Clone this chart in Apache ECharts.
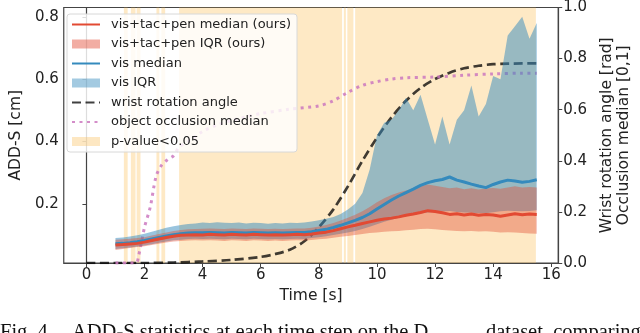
<!DOCTYPE html>
<html>
<head>
<meta charset="utf-8">
<script src="https://cdn.jsdelivr.net/npm/echarts@6/dist/echarts.min.js"></script>
<style>
html, body { margin: 0; padding: 0; background: #fff; }
#main { width: 640px; height: 333px; }
</style>
</head>
<body>
<div id="main"></div>
<script>
// time steps (s) shared by the ADD-S series
var timeSteps = [1, 1.25, 1.5, 1.75, 2, 2.25, 2.5, 2.75, 3, 3.25, 3.5, 3.75, 4, 4.25, 4.5, 4.75,
  5, 5.25, 5.5, 5.75, 6, 6.25, 6.5, 6.75, 7, 7.25, 7.5, 7.75, 8, 8.25, 8.5, 8.75,
  9, 9.25, 9.5, 9.75, 10, 10.25, 10.5, 10.75, 11, 11.25, 11.5, 11.75, 12, 12.25, 12.5, 12.75,
  13, 13.25, 13.5, 13.75, 14, 14.25, 14.5, 14.75, 15, 15.25, 15.5];

// vis+tac+pen (ours)
var oursMedian = [.068, .069, .071, .073, .077, .082, .087, .092, .096, .099, .100, .101, .100, .102, .101, .100,
  .102, .101, .100, .102, .101, .100, .101, .100, .101, .102, .101, .103, .106, .109, .114, .120,
  .126, .131, .137, .142, .147, .151, .154, .158, .163, .167, .172, .178, .175, .171, .166, .168,
  .164, .167, .163, .166, .164, .160, .164, .168, .165, .167, .166];
var oursLow = [.052, .055, .058, .061, .064, .068, .072, .076, .079, .081, .082, .083, .082, .083, .082, .081,
  .083, .082, .081, .083, .082, .081, .082, .081, .082, .083, .082, .084, .086, .088, .091, .094,
  .097, .100, .103, .106, .108, .110, .112, .113, .115, .117, .119, .120, .118, .116, .114, .113,
  .112, .113, .111, .112, .110, .108, .109, .108, .106, .105, .104];
var oursHigh = [.085, .086, .088, .090, .093, .098, .103, .108, .113, .116, .118, .119, .120, .121, .120, .119,
  .121, .120, .119, .121, .120, .119, .120, .119, .120, .121, .121, .123, .127, .132, .138, .146,
  .155, .165, .176, .190, .205, .218, .228, .236, .243, .250, .256, .262, .258, .254, .250, .252,
  .247, .250, .246, .249, .251, .248, .252, .256, .252, .254, .252];

// vis only
var visMedian = [.072, .073, .075, .078, .082, .087, .092, .097, .101, .104, .106, .107, .107, .108, .107, .106,
  .108, .107, .106, .108, .107, .106, .107, .106, .107, .108, .108, .110, .114, .118, .124, .131,
  .139, .147, .156, .168, .183, .198, .212, .225, .236, .247, .259, .268, .274, .278, .286, .276,
  .270, .263, .257, .252, .262, .270, .276, .273, .269, .272, .277];
var visLow = [.055, .057, .060, .063, .066, .070, .075, .079, .083, .085, .087, .088, .087, .088, .087, .086,
  .088, .087, .086, .088, .087, .086, .087, .086, .087, .088, .087, .090, .093, .096, .100, .104,
  .108, .113, .119, .126, .134, .142, .149, .155, .160, .165, .169, .172, .174, .175, .177, .174,
  .172, .171, .170, .170, .173, .176, .178, .177, .176, .177, .179];
var visHigh = [.090, .092, .095, .099, .104, .110, .117, .123, .128, .132, .135, .137, .140, .138, .141, .139,
  .138, .140, .137, .139, .138, .136, .138, .137, .139, .138, .140, .143, .147, .152, .158, .167,
  .182, .200, .235, .310, .420, .460, .470, .500, .540, .500, .550, .470, .390, .480, .390, .470,
  .500, .580, .480, .520, .610, .600, .740, .770, .800, .730, .780];

// wrist rotation angle (rad), right axis
var wristTime = [0, 1, 2, 3, 4, 5, 6, 6.5, 7, 7.5, 8, 8.5, 9, 9.5, 10, 10.5, 11, 11.5, 12, 12.5, 13, 13.5, 14, 14.5, 15, 15.5];
var wristAngle = [0, 0, 0, .002, .006, .012, .024, .035, .052, .085, .14, .21, .30, .40, .49, .57, .635, .685, .72, .745, .762, .772, .778, .78, .781, .781];

// object occlusion median [0,1], right axis
var occTime = [1, 1.7, 1.8, 2, 2.2, 2.4, 2.6, 2.8, 3, 3.2, 3.5, 4, 4.5, 5, 5.5, 6, 7, 8, 8.5, 9, 9.5, 10, 10.5, 11, 12, 13, 14, 15, 15.5];
var occValue = [0, 0, .03, .14, .22, .34, .385, .405, .42, .455, .475, .515, .54, .558, .572, .585, .602, .615, .635, .668, .695, .71, .72, .725, .728, .735, .74, .743, .743];

// time windows with p-value < 0.05
var pStart = [1.29, 1.53, 1.73, 2.41, 2.58, 3.19, 8.86, 8.98, 9.25];
var pEnd = [1.42, 1.69, 1.86, 2.51, 2.71, 8.80, 8.93, 9.19, 15.47];

var xTicks = [0, 2, 4, 6, 8, 10, 12, 14, 16];
var leftTicks = [0.2, 0.4, 0.6, 0.8];

function pairs(ts, vs) {
  return ts.map(function (t, i) { return [t, vs[i]]; });
}

// IQR band drawn as one polygon through the axis scales
function band(name, lo, hi, color, opacity, z) {
  return {
    name: name, type: 'custom', z: z, silent: true,
    data: timeSteps.map(function (t, i) { return [t, lo[i], hi[i]]; }),
    encode: { x: 0, y: [1, 2] },
    itemStyle: { color: color },
    renderItem: function (params, api) {
      if (params.dataIndex !== 0) return;
      var top = [], bottom = [];
      for (var i = 0; i < timeSteps.length; i++) {
        top.push(api.coord([timeSteps[i], hi[i]]));
        bottom.unshift(api.coord([timeSteps[i], lo[i]]));
      }
      return {
        type: 'polygon',
        shape: { points: top.concat(bottom) },
        style: { fill: color, opacity: opacity }
      };
    }
  };
}

var FONT = 'DejaVu Sans';
var AX = '#444';
var noDot = { color: 'rgba(0,0,0,0)', borderColor: 'rgba(0,0,0,0)', borderWidth: 0, opacity: 0 };
var myChart = echarts.init(document.getElementById('main'), null, { renderer: 'canvas' });

var option = {
  animation: false,
  grid: { left: 60, right: 77, top: 7, bottom: 70, show: true, borderColor: AX, borderWidth: 1.2 },
  legend: {
    orient: 'vertical',
    left: 67, top: 14,
    padding: [4, 6, 4, 4],
    itemWidth: 28, itemHeight: 9,
    itemGap: 6.5,
    selectedMode: false,
    backgroundColor: 'rgba(255,255,255,0.82)',
    borderColor: '#d8d8d8', borderWidth: 1, borderRadius: 3,
    textStyle: { fontFamily: FONT, fontSize: 13, color: '#222', lineHeight: 13, padding: [0, 0, 0, 6] },
    data: [
      { name: 'vis+tac+pen median (ours)', itemStyle: noDot },
      { name: 'vis+tac+pen IQR (ours)', icon: 'rect', itemStyle: { color: 'rgba(226,74,51,0.45)' } },
      { name: 'vis median', itemStyle: noDot },
      { name: 'vis IQR', icon: 'rect', itemStyle: { color: 'rgba(52,138,189,0.45)' } },
      { name: 'wrist rotation angle', itemStyle: noDot },
      { name: 'object occlusion median', itemStyle: noDot },
      { name: 'p-value<0.05', icon: 'rect', itemStyle: { color: 'rgba(251,193,94,0.38)' } }
    ]
  },
  xAxis: {
    type: 'value', min: -0.78, max: 16.24,
    name: 'Time [s]', nameLocation: 'middle', nameGap: 22,
    nameTextStyle: { fontFamily: FONT, fontSize: 15.5, color: '#222' },
    axisLine: { lineStyle: { color: AX, width: 1.2 } },
    axisTick: { length: 4, customValues: xTicks, lineStyle: { color: AX } },
    axisLabel: { customValues: xTicks, fontFamily: FONT, fontSize: 15, color: '#222', margin: 5 },
    splitLine: { show: false }
  },
  yAxis: [
    {
      type: 'value', min: 0.01, max: 0.83, position: 'left',
      name: 'ADD-S [cm]', nameLocation: 'middle', nameGap: 36,
      nameTextStyle: { fontFamily: FONT, fontSize: 15.5, color: '#222' },
      axisLine: { show: true, lineStyle: { color: AX, width: 1.2 } },
      axisTick: { show: true, length: 4, customValues: leftTicks, lineStyle: { color: AX } },
      axisLabel: { customValues: leftTicks, formatter: function (v) { return v.toFixed(1); },
        fontFamily: FONT, fontSize: 15, color: '#222', margin: 5 },
      splitLine: { show: false }
    },
    {
      type: 'value', min: 0, max: 1, interval: 0.2, position: 'right',
      name: 'Wrist rotation angle [rad]\nOcclusion median [0,1]', nameLocation: 'middle', nameGap: 31,
      nameTextStyle: { fontFamily: FONT, fontSize: 15.5, color: '#222', lineHeight: 17 },
      axisLine: { show: true, lineStyle: { color: AX, width: 1.2 } },
      axisTick: { show: true, length: 4, lineStyle: { color: AX } },
      axisLabel: { formatter: function (v) { return v.toFixed(1); },
        fontFamily: FONT, fontSize: 15, color: '#222', margin: 5 },
      splitLine: { show: false }
    }
  ],
  series: [
    {
      name: 'p-value<0.05', type: 'line', data: [], z: 1, silent: true, symbol: 'none',
      itemStyle: { color: 'rgba(251,193,94,0.38)' },
      markArea: {
        silent: true,
        itemStyle: { color: '#FBC15E', opacity: 0.36 },
        data: pStart.map(function (s, i) { return [{ xAxis: s }, { xAxis: pEnd[i] }]; })
      }
    },
    {
      name: 'wrist rotation angle', type: 'line', yAxisIndex: 1, z: 2,
      data: pairs(wristTime, wristAngle), symbol: 'none', smooth: 0.3, silent: true,
      itemStyle: { color: '#000' },
      lineStyle: { color: '#000', opacity: 0.75, width: 2.7, type: [9, 4.5] }
    },
    {
      name: 'object occlusion median', type: 'line', yAxisIndex: 1, z: 2,
      data: pairs(occTime, occValue), symbol: 'none', smooth: 0.3, silent: true,
      itemStyle: { color: '#cc79c0' },
      lineStyle: { color: '#cc79c0', opacity: 0.85, width: 3, type: [3, 4.5] }
    },
    band('vis IQR', visLow, visHigh, '#348ABD', 0.5, 3),
    band('vis+tac+pen IQR (ours)', oursLow, oursHigh, '#E24A33', 0.4, 4),
    {
      name: 'vis median', type: 'line', z: 5, silent: true,
      data: pairs(timeSteps, visMedian), symbol: 'none',
      itemStyle: { color: '#348ABD' },
      lineStyle: { color: '#348ABD', width: 3 }
    },
    {
      name: 'vis+tac+pen median (ours)', type: 'line', z: 6, silent: true,
      data: pairs(timeSteps, oursMedian), symbol: 'none',
      itemStyle: { color: '#E24A33' },
      lineStyle: { color: '#E24A33', width: 3 }
    }
  ],
  graphic: [
    {
      type: 'text', left: 0, top: 322, silent: true,
      style: { text: 'Fig. 4.', font: '20.5px "Liberation Serif"', fill: '#111' }
    },
    {
      type: 'text', left: 72, top: 322, silent: true,
      style: { text: 'ADD-S statistics at each time step on the D', font: '20.5px "Liberation Serif"', fill: '#111' }
    },
    {
      type: 'text', left: 486, top: 322, silent: true,
      style: { text: 'dataset, comparing', font: '20.5px "Liberation Serif"', fill: '#111' }
    }
  ]
};
myChart.setOption(option);
</script>
</body>
</html>
